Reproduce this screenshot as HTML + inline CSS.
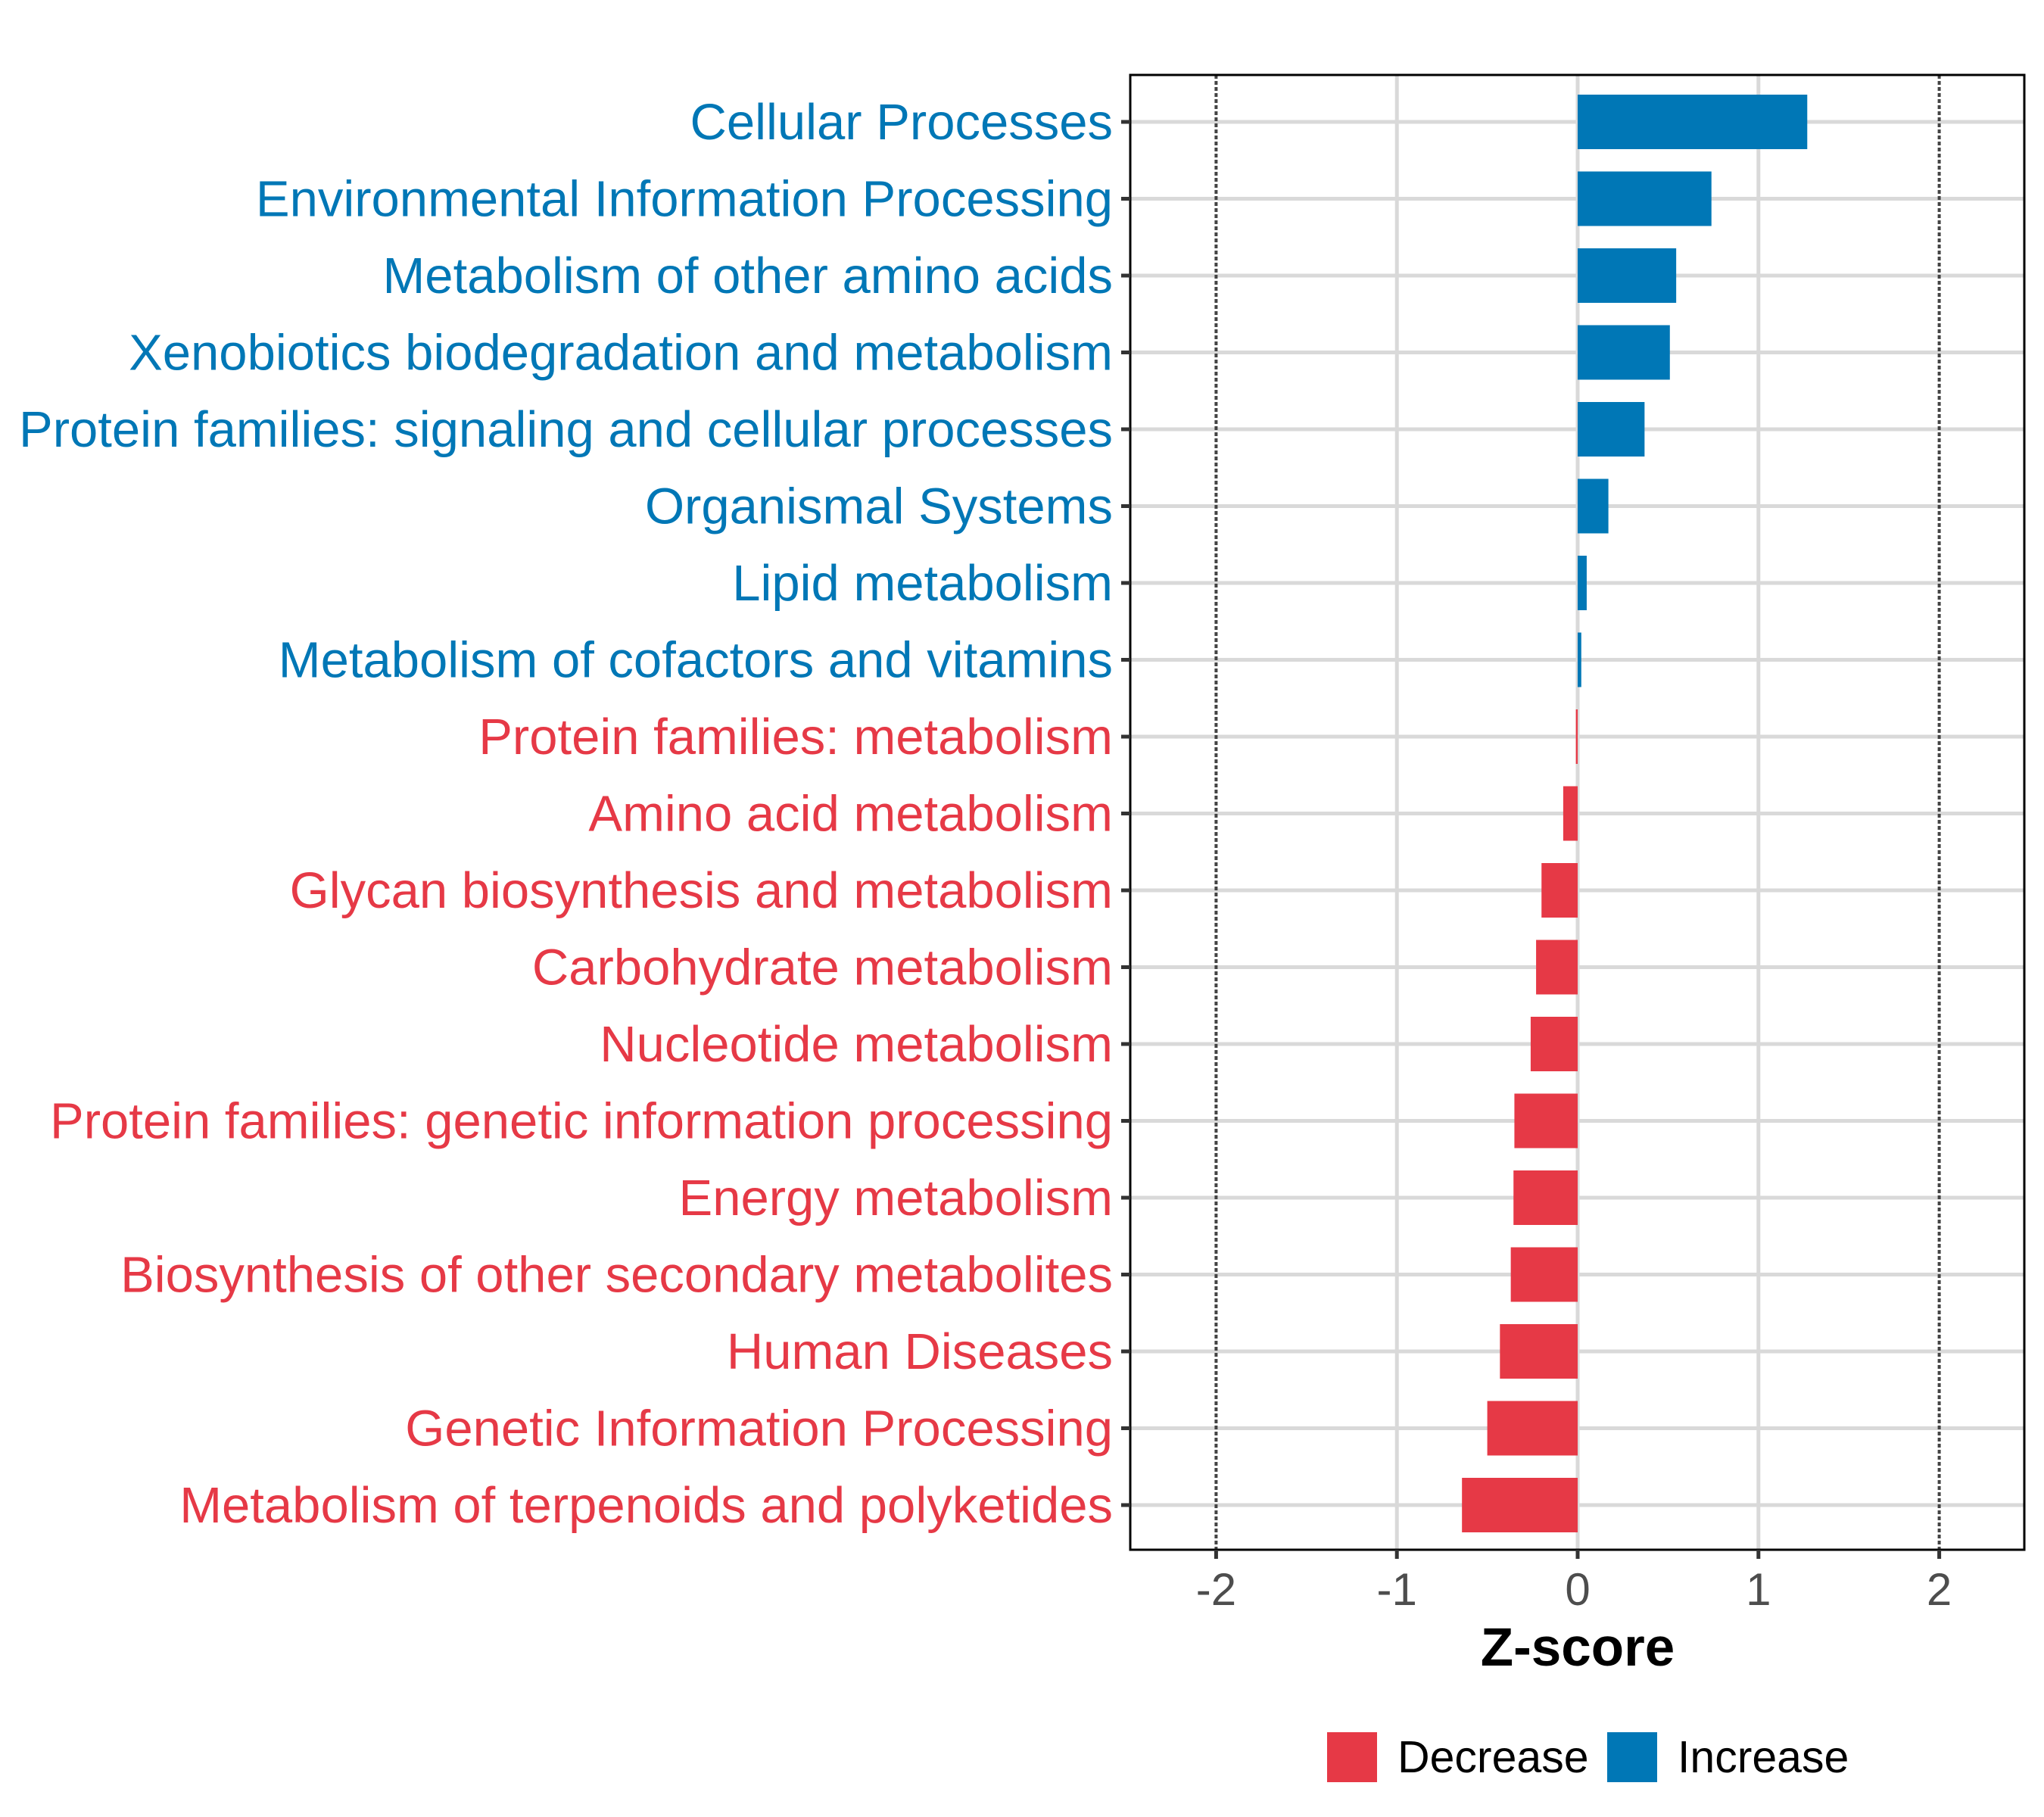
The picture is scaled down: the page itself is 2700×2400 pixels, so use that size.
<!DOCTYPE html>
<html><head><meta charset="utf-8">
<style>
html,body{margin:0;padding:0;background:#fff;}
svg{display:block;font-family:"Liberation Sans",Arial,sans-serif;}
</style></head>
<body>
<svg id="chart" width="2700" height="2400" viewBox="0 0 2700 2400" xmlns="http://www.w3.org/2000/svg">
  <rect x="0" y="0" width="2700" height="2400" fill="#fff"/>
  <g id="grid"></g>
  <g id="bars"></g>
  <g id="frame"></g>
  <g id="ylabels"></g>
  <g id="xticks"></g>
  <text x="2084" y="2200" font-size="71" font-weight="bold" text-anchor="middle" fill="#000">Z-score</text>
  <g>
    <rect x="1753" y="2288" width="66" height="66" fill="#E63946"/>
    <text x="1846" y="2341" font-size="59" fill="#000">Decrease</text>
    <rect x="2123" y="2288" width="66" height="66" fill="#0077B6"/>
    <text x="2216" y="2341" font-size="59" fill="#000">Increase</text>
  </g>
</svg>
<script>
const categories = [
  "Cellular Processes",
  "Environmental Information Processing",
  "Metabolism of other amino acids",
  "Xenobiotics biodegradation and metabolism",
  "Protein families: signaling and cellular processes",
  "Organismal Systems",
  "Lipid metabolism",
  "Metabolism of cofactors and vitamins",
  "Protein families: metabolism",
  "Amino acid metabolism",
  "Glycan biosynthesis and metabolism",
  "Carbohydrate metabolism",
  "Nucleotide metabolism",
  "Protein families: genetic information processing",
  "Energy metabolism",
  "Biosynthesis of other secondary metabolites",
  "Human Diseases",
  "Genetic Information Processing",
  "Metabolism of terpenoids and polyketides"
];
const zscores = [1.27, 0.74, 0.545, 0.51, 0.37, 0.17, 0.05, 0.02, -0.01, -0.08, -0.2, -0.23, -0.26, -0.35, -0.355, -0.37, -0.43, -0.50, -0.64];
const xTicks = [-2, -1, 0, 1, 2];
const xTickLabels = ["-2", "-1", "0", "1", "2"];
const refLines = [-2, 2];

const NS = "http://www.w3.org/2000/svg";
const panel = {left:1493, right:2674, top:99, bottom:2047};
const x0 = 2084, unit = 238.8;
function xs(v){ return x0 + v*unit; }
const rowTop = 161, rowStep = 101.5;
function ys(i){ return rowTop + i*rowStep; }
const barH = 72;
const RED = "#E63946", BLUE = "#0077B6";

function mk(tag, attrs, parent){
  const el = document.createElementNS(NS, tag);
  for (const k in attrs) el.setAttribute(k, attrs[k]);
  parent.appendChild(el);
  return el;
}
const grid = document.getElementById("grid");
const bars = document.getElementById("bars");
const frame = document.getElementById("frame");
const ylab = document.getElementById("ylabels");
const xt = document.getElementById("xticks");

xTicks.forEach(t => {
  if (refLines.includes(t)) return;
  const l = mk("line", {x1:xs(t), x2:xs(t), y1:panel.top, y2:panel.bottom, stroke:"#d9d9d9", "stroke-width":5}, grid);
  
  
});
categories.forEach((c, i) => {
  const l = mk("line", {x1:panel.left, x2:panel.right, y1:ys(i), y2:ys(i), stroke:"#d9d9d9", "stroke-width":5}, grid);
  
  
});
refLines.forEach(r => {
  const l = mk("line", {x1:xs(r), x2:xs(r), y1:panel.top, y2:panel.bottom, stroke:"#444", "stroke-width":4, "stroke-dasharray":"5 3"}, grid);
  
  
});
zscores.forEach((v, i) => {
  const a = xs(0), b = xs(v);
  const r = mk("rect", {x:Math.min(a,b), y:ys(i)-barH/2, width:Math.max(Math.abs(b-a),2), height:barH, fill: v >= 0 ? BLUE : RED}, bars);
  
  
});
const fr = mk("rect", {x:panel.left, y:panel.top, width:panel.right-panel.left, height:panel.bottom-panel.top, fill:"none", stroke:"#000", "stroke-width":3}, frame);


categories.forEach((c, i) => {
  const tk = mk("line", {x1:panel.left-12, x2:panel.left, y1:ys(i), y2:ys(i), stroke:"#333", "stroke-width":5}, ylab);
  
  
  const t = mk("text", {x:1470, y:ys(i)+23, "font-size":67, "text-anchor":"end", fill: zscores[i] >= 0 ? BLUE : RED}, ylab);
  t.textContent = c;
  
  
});
xTicks.forEach((t, i) => {
  const tk = mk("line", {x1:xs(t), x2:xs(t), y1:panel.bottom, y2:panel.bottom+12, stroke:"#333", "stroke-width":5}, xt);
  
  
  const tx = mk("text", {x:xs(t), y:2120, "font-size":60, "text-anchor":"middle", fill:"#4d4d4d"}, xt);
  tx.textContent = xTickLabels[i];
  
  
});
</script>
</body></html>
